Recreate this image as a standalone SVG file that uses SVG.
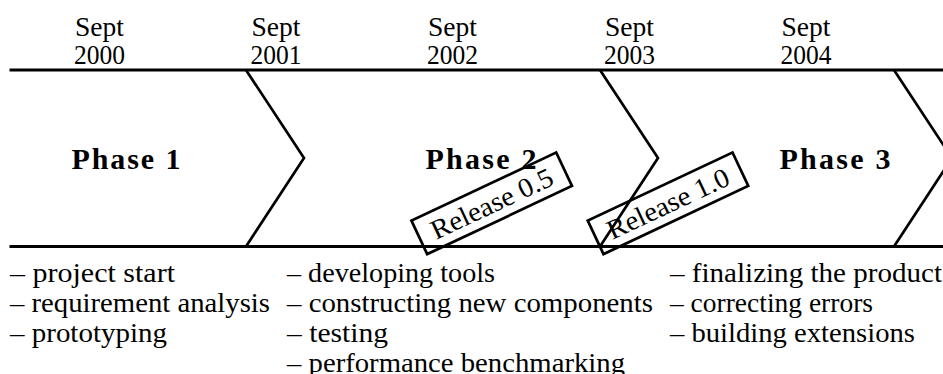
<svg xmlns="http://www.w3.org/2000/svg" width="943" height="374" viewBox="0 0 943 374">
<style>
  .t { font-family: "Liberation Serif", "Times New Roman", serif; font-size: 27.5px; fill: #000; }
  .date { text-anchor: middle; }
  .ph { font-family: "Liberation Serif", "Times New Roman", serif; font-size: 30px; font-weight: bold; fill: #000; text-anchor: middle; }
  .axis { stroke: #000; stroke-width: 3.2; fill: none; }
  .chev { stroke: #000; stroke-width: 2.7; fill: none; stroke-linejoin: miter; }
  .box { stroke: #000; stroke-width: 2.7; fill: none; }
  .rel { text-anchor: middle; }
</style>
<rect width="943" height="374" fill="#fff"/>

<g id="dates">
  <text class="t date" x="99.5" y="36" textLength="49" lengthAdjust="spacingAndGlyphs">Sept</text><text class="t date" x="99.5" y="64" textLength="51" lengthAdjust="spacingAndGlyphs">2000</text>
  <text class="t date" x="276" y="36" textLength="49" lengthAdjust="spacingAndGlyphs">Sept</text><text class="t date" x="276" y="64" textLength="51" lengthAdjust="spacingAndGlyphs">2001</text>
  <text class="t date" x="452.5" y="36" textLength="49" lengthAdjust="spacingAndGlyphs">Sept</text><text class="t date" x="452.5" y="64" textLength="51" lengthAdjust="spacingAndGlyphs">2002</text>
  <text class="t date" x="629.5" y="36" textLength="49" lengthAdjust="spacingAndGlyphs">Sept</text><text class="t date" x="629.5" y="64" textLength="51" lengthAdjust="spacingAndGlyphs">2003</text>
  <text class="t date" x="806" y="36" textLength="49" lengthAdjust="spacingAndGlyphs">Sept</text><text class="t date" x="806" y="64" textLength="51" lengthAdjust="spacingAndGlyphs">2004</text>
</g>

<g id="connectors">
  <line class="axis" x1="9.5" y1="70" x2="943" y2="70"/>
  <line class="axis" x1="9.5" y1="246.5" x2="943" y2="246.5"/>
  <polyline class="chev" points="246,70 304,158 246,246.5"/>
  <polyline class="chev" points="600,70 658,158 600,246.5"/>
  <polyline class="chev" points="894,70 952,158 894,246.5"/>
</g>

<g id="phase1">
  <text class="ph" x="126" y="169" textLength="109" lengthAdjust="spacing">Phase 1</text>
  <g class="t">
    <text x="10" y="281.7" textLength="165" lengthAdjust="spacingAndGlyphs">– project start</text>
    <text x="10" y="311.7" textLength="260" lengthAdjust="spacingAndGlyphs">– requirement analysis</text>
    <text x="10" y="341.7" textLength="157" lengthAdjust="spacingAndGlyphs">– prototyping</text>
  </g>
</g>

<g id="phase2">
  <text class="ph" x="481" y="169" textLength="111" lengthAdjust="spacing">Phase 2</text>
  <g class="t">
    <text x="287" y="281.7" textLength="208" lengthAdjust="spacingAndGlyphs">– developing tools</text>
    <text x="287" y="311.7" textLength="366" lengthAdjust="spacingAndGlyphs">– constructing new components</text>
    <text x="287" y="341.7" textLength="101" lengthAdjust="spacingAndGlyphs">– testing</text>
    <text x="287" y="371.7" textLength="338" lengthAdjust="spacingAndGlyphs">– performance benchmarking</text>
  </g>
</g>

<g id="phase3">
  <text class="ph" x="835" y="169" textLength="111" lengthAdjust="spacing">Phase 3</text>
  <g class="t">
    <text x="670" y="281.7" textLength="272" lengthAdjust="spacingAndGlyphs">– finalizing the product</text>
    <text x="670" y="311.7" textLength="203" lengthAdjust="spacingAndGlyphs">– correcting errors</text>
    <text x="670" y="341.7" textLength="245" lengthAdjust="spacingAndGlyphs">– building extensions</text>
  </g>
</g>

<g id="release05" transform="translate(491.7,203.3) rotate(-25.2)">
  <rect class="box" x="-80" y="-18.5" width="160" height="37"/>
  <text class="t rel" x="0" y="9.5" textLength="132" lengthAdjust="spacingAndGlyphs">Release 0.5</text>
</g>

<g id="release10" transform="translate(668,203.3) rotate(-25.2)">
  <rect class="box" x="-80" y="-18.5" width="160" height="37"/>
  <text class="t rel" x="0" y="9.5" textLength="132" lengthAdjust="spacingAndGlyphs">Release 1.0</text>
</g>
</svg>
